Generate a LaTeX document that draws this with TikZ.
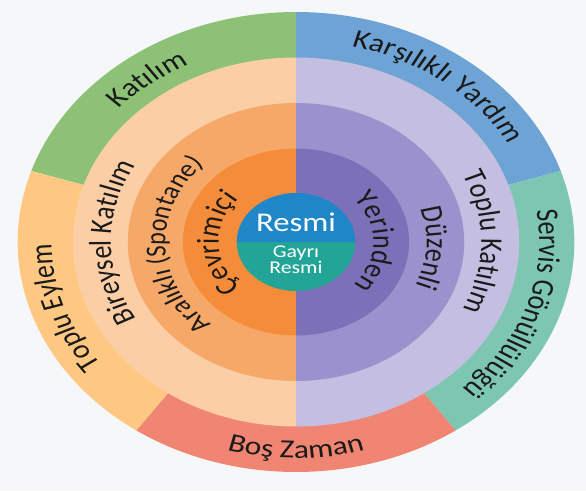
\documentclass[tikz,border=0pt]{standalone}
\usepackage{fontspec}
\setmainfont{Carlito}
\usetikzlibrary{decorations.text}
\definecolor{bg}{HTML}{F6F7F9}
\definecolor{cgreen}{HTML}{8DC276}
\definecolor{cblue}{HTML}{6EA3D6}
\definecolor{cteal}{HTML}{7DC6B2}
\definecolor{csalmon}{HTML}{F08573}
\definecolor{cyellow}{HTML}{FEC882}
\definecolor{cpeach}{HTML}{FCCEA6}
\definecolor{clav}{HTML}{C4BEE1}
\definecolor{cmorange}{HTML}{F6A868}
\definecolor{cmpurple}{HTML}{9B91CC}
\definecolor{cdorange}{HTML}{F58C3A}
\definecolor{cdpurple}{HTML}{7C71B9}
\definecolor{cinblue}{HTML}{1F86C8}
\definecolor{cinteal}{HTML}{22A596}
\definecolor{ink}{HTML}{1A1A1A}
\newcommand\rl{\fontsize{26}{26}\selectfont}
\newcommand\rs{\fontsize{24}{24}\selectfont}
% clockwise text: radius, centre angle, half span, text
\newcommand\cwtext[4]{%
  \path[decorate, decoration={text along path, text align=center, text color=ink, text={|\rl|#4}}]
    ({#2+#3}:#1) arc[start angle={#2+#3}, end angle={#2-#3}, radius=#1];}
\newcommand\cwtextsmall[4]{%
  \path[decorate, decoration={text along path, text align=center, text color=ink, text={|\rs|#4}}]
    ({#2+#3}:#1) arc[start angle={#2+#3}, end angle={#2-#3}, radius=#1];}
\newcommand\ccwtext[4]{%
  \path[decorate, decoration={text along path, text align=center, text color=ink, text={|\rl|#4}}]
    ({#2-#3}:#1) arc[start angle={#2-#3}, end angle={#2+#3}, radius=#1];}
\newcommand\sector[4]{% colour, radius, start, end
  \fill[#1] (0,0) -- ({#3}:#2) arc[start angle=#3, end angle=#4, radius=#2] -- cycle;}
\begin{document}
\begin{tikzpicture}[x=1pt,y=1pt]
\useasboundingbox (-296,-249) rectangle (290,242);
\fill[bg] (-296,-249) rectangle (290,242);
\begin{scope}[transform canvas={xscale=1.21}]
  % outer ring
  \sector{cgreen}{230}{90}{162}
  \sector{cblue}{230}{18}{90}
  \sector{cteal}{230}{-55}{18}
  \sector{csalmon}{230}{-125}{-55}
  \sector{cyellow}{230}{162}{235}
  % pale ring
  \sector{cpeach}{184.5}{90}{270}
  \sector{clav}{184.5}{-90}{90}
  % medium ring
  \sector{cmorange}{139}{90}{270}
  \sector{cmpurple}{139}{-90}{90}
  % dark ring
  \sector{cdorange}{93.5}{90}{270}
  \sector{cdpurple}{93.5}{-90}{90}
  % centre
  \sector{cinblue}{49}{0}{180}
  \sector{cinteal}{49}{180}{360}
  % labels
  \cwtext{198}{127}{60}{Katılım}
  \cwtext{201}{53}{60}{Karşılıklı Yardım}
  \cwtext{201}{-19}{60}{Servis Gönüllülüğü}
  \cwtext{202}{199}{60}{Toplu Eylem}
  \ccwtext{216}{-90}{60}{Boş Zaman}
  \cwtext{153}{180}{60}{Bireysel Katılım}
  \cwtext{153}{0}{60}{Toplu Katılım}
  \cwtextsmall{108}{182}{70}{Aralıklı (Spontane)}
  \cwtext{108}{-3}{60}{Düzenli}
  \cwtext{64}{181}{65}{Çevrimiçi}
  \cwtext{64}{0}{65}{Yerinden}
  \node[text=white, font=\fontsize{27}{27}\selectfont, inner sep=0pt] (resmi) at (0,20) {Resmi};
  \node[text=white, font=\fontsize{18}{15}\selectfont, align=center, inner sep=0pt] (gayri) at (0,-18) {Gayrı\\Resmi};
\end{scope}
\end{tikzpicture}
\end{document}
